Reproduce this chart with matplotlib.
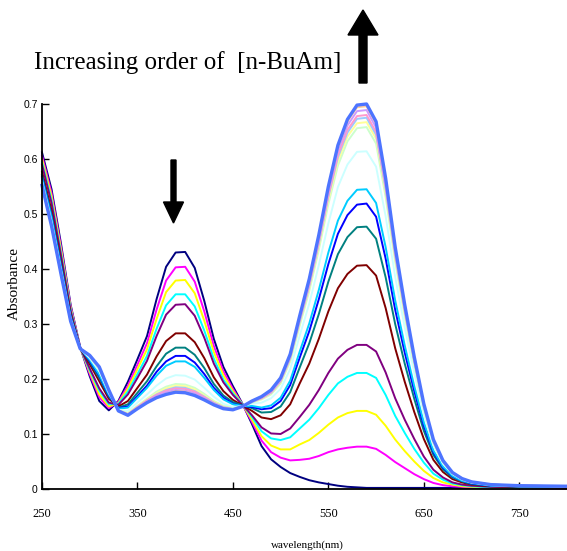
import matplotlib
matplotlib.use("Agg")
import matplotlib.pyplot as plt
from matplotlib.patches import FancyArrow

# wavelength grid (nm)
wavelength = [250, 260, 270, 280, 290, 300, 310, 320, 330, 340, 350, 360, 370, 380, 390, 400, 410,
              420, 430, 440, 450, 460, 470, 480, 490, 500, 510, 520, 530, 540, 550, 560, 570, 580,
              590, 600, 610, 620, 630, 640, 650, 660, 670, 680, 690, 700, 720, 750, 800]

# absorbance spectra, one per addition of n-BuAm
step01 = [0.612, 0.545, 0.445, 0.335, 0.258, 0.205, 0.160, 0.143, 0.160, 0.195, 0.236, 0.278, 0.345, 0.404, 0.430, 0.431, 0.402, 0.342, 0.273, 0.222, 0.187, 0.155, 0.118, 0.078, 0.054, 0.040, 0.029, 0.022, 0.016, 0.012, 0.009, 0.006, 0.004, 0.003, 0.002, 0.002, 0.002, 0.002, 0.002, 0.002, 0.002, 0.002, 0.002, 0.002, 0.002, 0.002, 0.001, 0.001, 0.001]
step02 = [0.606, 0.538, 0.439, 0.332, 0.258, 0.209, 0.167, 0.147, 0.158, 0.188, 0.226, 0.265, 0.326, 0.379, 0.403, 0.404, 0.377, 0.323, 0.260, 0.214, 0.182, 0.154, 0.122, 0.088, 0.067, 0.057, 0.052, 0.053, 0.055, 0.060, 0.067, 0.072, 0.075, 0.077, 0.077, 0.073, 0.062, 0.049, 0.038, 0.027, 0.018, 0.011, 0.007, 0.005, 0.004, 0.003, 0.002, 0.002, 0.001]
step03 = [0.600, 0.532, 0.434, 0.329, 0.257, 0.213, 0.172, 0.150, 0.156, 0.183, 0.218, 0.254, 0.309, 0.358, 0.379, 0.380, 0.356, 0.306, 0.249, 0.207, 0.178, 0.154, 0.126, 0.096, 0.079, 0.072, 0.072, 0.081, 0.089, 0.102, 0.117, 0.130, 0.138, 0.142, 0.142, 0.135, 0.115, 0.090, 0.069, 0.050, 0.033, 0.020, 0.012, 0.008, 0.005, 0.004, 0.002, 0.002, 0.002]
step04 = [0.594, 0.525, 0.428, 0.326, 0.257, 0.216, 0.179, 0.154, 0.155, 0.177, 0.209, 0.242, 0.291, 0.334, 0.354, 0.354, 0.332, 0.288, 0.237, 0.199, 0.174, 0.154, 0.131, 0.105, 0.092, 0.089, 0.094, 0.110, 0.126, 0.147, 0.171, 0.192, 0.204, 0.211, 0.211, 0.202, 0.171, 0.133, 0.102, 0.073, 0.048, 0.028, 0.017, 0.010, 0.007, 0.005, 0.003, 0.002, 0.002]
step05 = [0.590, 0.520, 0.424, 0.324, 0.257, 0.219, 0.183, 0.157, 0.153, 0.172, 0.202, 0.233, 0.278, 0.317, 0.335, 0.336, 0.315, 0.275, 0.228, 0.194, 0.171, 0.153, 0.134, 0.112, 0.101, 0.100, 0.110, 0.131, 0.153, 0.180, 0.211, 0.237, 0.253, 0.262, 0.262, 0.250, 0.212, 0.165, 0.126, 0.091, 0.059, 0.035, 0.021, 0.012, 0.008, 0.006, 0.004, 0.003, 0.002]
step06 = [0.577, 0.506, 0.413, 0.318, 0.256, 0.227, 0.196, 0.164, 0.150, 0.160, 0.184, 0.208, 0.241, 0.269, 0.283, 0.283, 0.267, 0.238, 0.203, 0.178, 0.162, 0.152, 0.142, 0.130, 0.127, 0.134, 0.154, 0.192, 0.228, 0.273, 0.323, 0.365, 0.391, 0.406, 0.407, 0.388, 0.329, 0.256, 0.195, 0.140, 0.091, 0.053, 0.031, 0.018, 0.012, 0.008, 0.005, 0.004, 0.003]
step07 = [0.571, 0.499, 0.408, 0.315, 0.256, 0.231, 0.202, 0.168, 0.148, 0.154, 0.175, 0.196, 0.223, 0.246, 0.257, 0.257, 0.244, 0.220, 0.191, 0.170, 0.158, 0.152, 0.147, 0.139, 0.140, 0.150, 0.176, 0.221, 0.265, 0.318, 0.377, 0.427, 0.458, 0.476, 0.477, 0.455, 0.385, 0.300, 0.228, 0.164, 0.106, 0.062, 0.036, 0.021, 0.014, 0.009, 0.006, 0.004, 0.004]
step08 = [0.568, 0.495, 0.404, 0.313, 0.256, 0.233, 0.206, 0.170, 0.147, 0.150, 0.169, 0.188, 0.213, 0.232, 0.242, 0.242, 0.230, 0.209, 0.184, 0.166, 0.155, 0.151, 0.149, 0.145, 0.147, 0.160, 0.189, 0.239, 0.287, 0.345, 0.409, 0.464, 0.498, 0.517, 0.519, 0.495, 0.419, 0.326, 0.248, 0.178, 0.115, 0.067, 0.039, 0.023, 0.015, 0.010, 0.006, 0.005, 0.004]
step09 = [0.565, 0.493, 0.402, 0.312, 0.256, 0.235, 0.208, 0.172, 0.146, 0.148, 0.166, 0.184, 0.206, 0.224, 0.232, 0.232, 0.222, 0.202, 0.180, 0.163, 0.154, 0.151, 0.151, 0.148, 0.152, 0.166, 0.197, 0.250, 0.301, 0.362, 0.430, 0.488, 0.524, 0.544, 0.545, 0.520, 0.440, 0.343, 0.261, 0.187, 0.121, 0.070, 0.041, 0.024, 0.015, 0.011, 0.006, 0.005, 0.004]
step10 = [0.559, 0.486, 0.397, 0.309, 0.255, 0.238, 0.214, 0.175, 0.144, 0.142, 0.157, 0.172, 0.188, 0.201, 0.207, 0.206, 0.199, 0.184, 0.168, 0.155, 0.149, 0.151, 0.155, 0.157, 0.165, 0.182, 0.218, 0.279, 0.337, 0.407, 0.483, 0.549, 0.590, 0.613, 0.614, 0.586, 0.496, 0.386, 0.294, 0.211, 0.136, 0.079, 0.046, 0.027, 0.017, 0.012, 0.007, 0.005, 0.005]
step11 = [0.556, 0.482, 0.393, 0.307, 0.255, 0.241, 0.218, 0.178, 0.143, 0.138, 0.151, 0.164, 0.177, 0.186, 0.191, 0.190, 0.184, 0.173, 0.160, 0.151, 0.147, 0.150, 0.157, 0.163, 0.172, 0.192, 0.232, 0.297, 0.360, 0.435, 0.518, 0.588, 0.632, 0.656, 0.658, 0.628, 0.531, 0.414, 0.315, 0.226, 0.146, 0.085, 0.049, 0.028, 0.018, 0.012, 0.008, 0.006, 0.005]
step12 = [0.555, 0.481, 0.393, 0.306, 0.255, 0.241, 0.219, 0.178, 0.143, 0.137, 0.150, 0.163, 0.174, 0.183, 0.188, 0.187, 0.181, 0.170, 0.159, 0.150, 0.146, 0.150, 0.158, 0.164, 0.174, 0.194, 0.235, 0.301, 0.365, 0.441, 0.525, 0.596, 0.641, 0.665, 0.667, 0.637, 0.539, 0.419, 0.319, 0.229, 0.148, 0.086, 0.050, 0.029, 0.018, 0.012, 0.008, 0.006, 0.005]
step13 = [0.554, 0.480, 0.392, 0.306, 0.255, 0.242, 0.220, 0.179, 0.143, 0.136, 0.149, 0.161, 0.172, 0.180, 0.185, 0.184, 0.178, 0.168, 0.157, 0.149, 0.146, 0.150, 0.158, 0.165, 0.175, 0.196, 0.237, 0.304, 0.369, 0.446, 0.531, 0.603, 0.648, 0.673, 0.675, 0.644, 0.545, 0.424, 0.323, 0.231, 0.149, 0.087, 0.050, 0.029, 0.018, 0.013, 0.008, 0.006, 0.005]
step14 = [0.554, 0.480, 0.392, 0.306, 0.255, 0.242, 0.220, 0.179, 0.143, 0.136, 0.149, 0.161, 0.171, 0.179, 0.183, 0.182, 0.177, 0.167, 0.156, 0.148, 0.145, 0.150, 0.159, 0.165, 0.176, 0.197, 0.239, 0.307, 0.371, 0.449, 0.534, 0.607, 0.653, 0.678, 0.680, 0.649, 0.549, 0.427, 0.325, 0.233, 0.151, 0.087, 0.051, 0.029, 0.019, 0.013, 0.008, 0.006, 0.005]
step15 = [0.553, 0.479, 0.391, 0.305, 0.255, 0.242, 0.221, 0.179, 0.142, 0.135, 0.147, 0.159, 0.169, 0.176, 0.180, 0.179, 0.174, 0.165, 0.155, 0.147, 0.145, 0.150, 0.159, 0.167, 0.178, 0.199, 0.242, 0.310, 0.376, 0.455, 0.541, 0.615, 0.661, 0.687, 0.689, 0.657, 0.556, 0.433, 0.330, 0.236, 0.153, 0.089, 0.051, 0.030, 0.019, 0.013, 0.008, 0.006, 0.005]
step16 = [0.552, 0.478, 0.390, 0.305, 0.255, 0.243, 0.222, 0.180, 0.142, 0.134, 0.147, 0.158, 0.167, 0.173, 0.178, 0.177, 0.171, 0.163, 0.154, 0.146, 0.144, 0.150, 0.160, 0.167, 0.179, 0.201, 0.244, 0.313, 0.380, 0.459, 0.547, 0.621, 0.668, 0.694, 0.696, 0.664, 0.562, 0.437, 0.333, 0.239, 0.154, 0.089, 0.052, 0.030, 0.019, 0.013, 0.008, 0.006, 0.005]
step17 = [0.552, 0.478, 0.390, 0.305, 0.255, 0.243, 0.222, 0.180, 0.142, 0.134, 0.146, 0.157, 0.166, 0.172, 0.176, 0.175, 0.170, 0.162, 0.153, 0.146, 0.144, 0.150, 0.160, 0.168, 0.180, 0.202, 0.245, 0.315, 0.382, 0.462, 0.550, 0.625, 0.672, 0.698, 0.700, 0.668, 0.565, 0.440, 0.335, 0.240, 0.155, 0.090, 0.052, 0.030, 0.019, 0.013, 0.008, 0.006, 0.005]

spectra = [step01, step02, step03, step04, step05, step06, step07, step08, step09,
           step10, step11, step12, step13, step14, step15, step16, step17]

# old excel series palette
colors = ['#000080', '#FF00FF', '#FFFF00', '#00FFFF', '#800080', '#800000', '#008080', '#0000FF',
          '#00CCFF', '#CCFFFF', '#CCFFCC', '#FFFF99', '#99CCFF', '#FF99CC', '#CC99FF', '#FFCC99', '#4d74ff']

x_ticks = [250, 350, 450, 550, 650, 750]
y_ticks = [0, 0.1, 0.2, 0.3, 0.4, 0.5, 0.6, 0.7]
y_ticklabels = ['0', '0.1', '0.2', '0.3', '0.4', '0.5', '0.6', '0.7']

W, H = 567, 551
fig = plt.figure(figsize=(W / 100, H / 100), dpi=100)
ax = fig.add_axes([42 / W, 62 / H, 525 / W, 385 / H])

for i, (spec, col) in enumerate(zip(spectra, colors)):
    lw = 2.4 if i == len(spectra) - 1 else 1.4
    ax.plot(wavelength, spec, color=col, lw=lw, clip_on=False)

ax.set_xlim(250, 800)
ax.set_ylim(0, 0.7)
ax.spines['top'].set_visible(False)
ax.spines['right'].set_visible(False)
ax.spines['left'].set_linewidth(1.3)
ax.spines['bottom'].set_linewidth(1.3)
ax.set_xticks(x_ticks)
ax.set_xticklabels([str(t) for t in x_ticks], family='Liberation Serif', size=9)
ax.set_yticks(y_ticks)
ax.set_yticklabels(y_ticklabels, family='Liberation Sans', size=7.5)
ax.tick_params(axis='both', direction='in', length=5, width=1)
ax.tick_params(axis='x', pad=14)
ax.tick_params(axis='y', pad=3)

fig.text(14 / W, 1 - 283 / H, 'Absorbance', rotation=90, ha='center', va='center',
         family='Liberation Serif', size=11)
fig.text(307 / W, 1 - 545 / H, 'wavelength(nm)', ha='center', va='center',
         family='Liberation Serif', size=8)
fig.text(34 / W, 1 - 69 / H, 'Increasing order of  [n-BuAm]', va='baseline',
         family='Liberation Serif', size=18)

# arrows drawn in pixel coordinates on a transparent overlay
over = fig.add_axes([0, 0, 1, 1])
over.set_xlim(0, W)
over.set_ylim(H, 0)
over.axis('off')
over.patch.set_alpha(0)
over.add_patch(FancyArrow(363, 83, 0, -73, width=8, head_width=30, head_length=25,
                          length_includes_head=True, color='black'))
over.add_patch(FancyArrow(173.5, 160, 0, 63, width=5, head_width=20, head_length=21,
                          length_includes_head=True, color='black'))

fig.savefig("out.png")
